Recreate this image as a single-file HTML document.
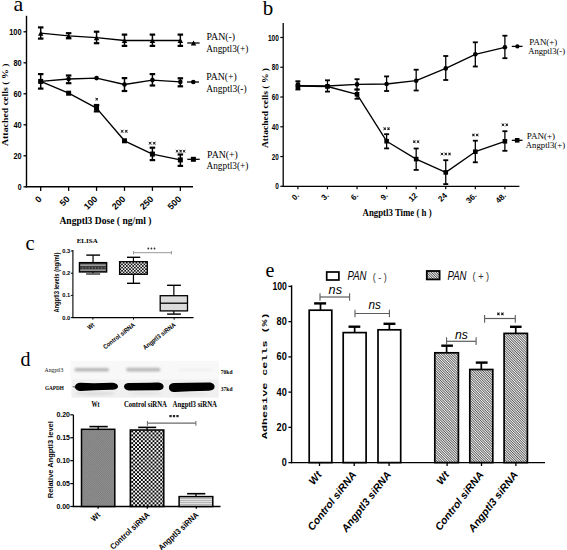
<!DOCTYPE html>
<html><head><meta charset="utf-8"><title>Figure</title>
<style>
html,body{margin:0;padding:0;background:#fff;width:567px;height:550px;overflow:hidden;font-family:"Liberation Sans",sans-serif;}
svg{display:block;position:absolute;left:0;top:0;}
</style></head><body>
<svg width="567" height="550" viewBox="0 0 567 550">

<defs>
<pattern id="pc1" width="3.2" height="3" patternUnits="userSpaceOnUse"><rect width="3.2" height="3" fill="#333"/><rect x="2.2" width="1" height="3" fill="#8a8a8a"/></pattern>
<pattern id="pc2" x="119.6" y="262" width="3.2" height="3.2" patternUnits="userSpaceOnUse"><rect width="3.2" height="3.2" fill="#f4f4f4"/><rect width="1.6" height="1.6" fill="#111"/><rect x="1.6" y="1.6" width="1.6" height="1.6" fill="#111"/></pattern>
<pattern id="pd1" width="2.2" height="2.2" patternUnits="userSpaceOnUse"><rect width="2.2" height="2.2" fill="#969696"/><rect width="1.1" height="1.1" fill="#787878"/><rect x="1.1" y="1.1" width="1.1" height="1.1" fill="#787878"/></pattern>
<pattern id="pd2" x="131.2" y="430.5" width="3.88" height="3.88" patternUnits="userSpaceOnUse"><rect width="3.88" height="3.88" fill="#fafafa"/><rect width="1.94" height="1.94" fill="#080808"/><rect x="1.94" y="1.94" width="1.94" height="1.94" fill="#080808"/></pattern>
<pattern id="pd3" width="4" height="2" patternUnits="userSpaceOnUse"><rect width="4" height="2" fill="#e4e4e4"/><rect width="4" height="0.8" fill="#aaaaaa"/></pattern>
<pattern id="pe" width="1.75" height="1.75" patternUnits="userSpaceOnUse" patternTransform="rotate(-45)"><rect width="1.75" height="1.75" fill="#f6f6f6"/><rect width="0.72" height="1.75" fill="#3a3a3a"/></pattern>
<filter id="blur1" x="-20%" y="-100%" width="140%" height="300%"><feGaussianBlur stdDeviation="0.9"/></filter>
<filter id="blur2" x="-20%" y="-100%" width="140%" height="300%"><feGaussianBlur stdDeviation="0.55"/></filter>
</defs>

<rect width="567" height="550" fill="#fff"/>
<text x="13.50" y="10.80" font-family='"Liberation Serif", serif' font-size="22" font-weight="normal" font-style="normal" text-anchor="start" fill="#000" >a</text>
<line x1="26.50" y1="15.80" x2="26.50" y2="187.40" stroke="#000" stroke-width="1.4"/>
<line x1="25.80" y1="186.80" x2="193.00" y2="186.80" stroke="#000" stroke-width="1.4"/>
<line x1="23.50" y1="186.80" x2="26.50" y2="186.80" stroke="#000" stroke-width="1.3"/>
<text x="21.60" y="190.30" font-family='"Liberation Sans", sans-serif' font-size="9.6" font-weight="bold" font-style="normal" text-anchor="end" fill="#000" textLength="3.8" lengthAdjust="spacingAndGlyphs" >0</text>
<line x1="23.50" y1="155.80" x2="26.50" y2="155.80" stroke="#000" stroke-width="1.3"/>
<text x="21.60" y="159.30" font-family='"Liberation Sans", sans-serif' font-size="9.6" font-weight="bold" font-style="normal" text-anchor="end" fill="#000" textLength="8.2" lengthAdjust="spacingAndGlyphs" >20</text>
<line x1="23.50" y1="124.80" x2="26.50" y2="124.80" stroke="#000" stroke-width="1.3"/>
<text x="21.60" y="128.30" font-family='"Liberation Sans", sans-serif' font-size="9.6" font-weight="bold" font-style="normal" text-anchor="end" fill="#000" textLength="8.2" lengthAdjust="spacingAndGlyphs" >40</text>
<line x1="23.50" y1="93.80" x2="26.50" y2="93.80" stroke="#000" stroke-width="1.3"/>
<text x="21.60" y="97.30" font-family='"Liberation Sans", sans-serif' font-size="9.6" font-weight="bold" font-style="normal" text-anchor="end" fill="#000" textLength="8.2" lengthAdjust="spacingAndGlyphs" >60</text>
<line x1="23.50" y1="62.80" x2="26.50" y2="62.80" stroke="#000" stroke-width="1.3"/>
<text x="21.60" y="66.30" font-family='"Liberation Sans", sans-serif' font-size="9.6" font-weight="bold" font-style="normal" text-anchor="end" fill="#000" textLength="8.2" lengthAdjust="spacingAndGlyphs" >80</text>
<line x1="23.50" y1="31.80" x2="26.50" y2="31.80" stroke="#000" stroke-width="1.3"/>
<text x="21.60" y="35.30" font-family='"Liberation Sans", sans-serif' font-size="9.6" font-weight="bold" font-style="normal" text-anchor="end" fill="#000" textLength="12.4" lengthAdjust="spacingAndGlyphs" >100</text>
<line x1="40.70" y1="186.80" x2="40.70" y2="190.90" stroke="#000" stroke-width="1.3"/>
<text x="42.30" y="199.60" font-family='"Liberation Sans", sans-serif' font-size="9" font-weight="bold" font-style="normal" text-anchor="end" fill="#000" transform="rotate(-45 42.30 199.60)" >0</text>
<line x1="68.63" y1="186.80" x2="68.63" y2="190.90" stroke="#000" stroke-width="1.3"/>
<text x="70.23" y="199.60" font-family='"Liberation Sans", sans-serif' font-size="9" font-weight="bold" font-style="normal" text-anchor="end" fill="#000" transform="rotate(-45 70.23 199.60)" >50</text>
<line x1="96.56" y1="186.80" x2="96.56" y2="190.90" stroke="#000" stroke-width="1.3"/>
<text x="98.16" y="199.60" font-family='"Liberation Sans", sans-serif' font-size="9" font-weight="bold" font-style="normal" text-anchor="end" fill="#000" transform="rotate(-45 98.16 199.60)" >100</text>
<line x1="124.49" y1="186.80" x2="124.49" y2="190.90" stroke="#000" stroke-width="1.3"/>
<text x="126.09" y="199.60" font-family='"Liberation Sans", sans-serif' font-size="9" font-weight="bold" font-style="normal" text-anchor="end" fill="#000" transform="rotate(-45 126.09 199.60)" >200</text>
<line x1="152.42" y1="186.80" x2="152.42" y2="190.90" stroke="#000" stroke-width="1.3"/>
<text x="154.02" y="199.60" font-family='"Liberation Sans", sans-serif' font-size="9" font-weight="bold" font-style="normal" text-anchor="end" fill="#000" transform="rotate(-45 154.02 199.60)" >250</text>
<line x1="180.35" y1="186.80" x2="180.35" y2="190.90" stroke="#000" stroke-width="1.3"/>
<text x="181.95" y="199.60" font-family='"Liberation Sans", sans-serif' font-size="9" font-weight="bold" font-style="normal" text-anchor="end" fill="#000" transform="rotate(-45 181.95 199.60)" >500</text>
<text x="59.40" y="223.50" font-family='"Liberation Serif", serif' font-size="10" font-weight="bold" font-style="normal" text-anchor="start" fill="#000" textLength="92" lengthAdjust="spacingAndGlyphs" >Angptl3 Dose ( ng/ml )</text>
<text x="8.40" y="146.00" font-family='"Liberation Serif", serif' font-size="8.2" font-weight="bold" font-style="normal" text-anchor="start" fill="#000" textLength="82.5" lengthAdjust="spacingAndGlyphs" transform="rotate(-90 8.40 146.00)" >Attached cells ( % )</text>
<polyline points="40.70,33.20 68.63,35.90 96.56,37.70 124.49,40.50 152.42,40.50 180.35,40.50" fill="none" stroke="#000" stroke-width="1.3" stroke-linejoin="round"/>
<line x1="40.70" y1="27.40" x2="40.70" y2="38.60" stroke="#000" stroke-width="1.5"/>
<line x1="37.95" y1="27.40" x2="43.45" y2="27.40" stroke="#000" stroke-width="2.2"/>
<line x1="37.95" y1="38.60" x2="43.45" y2="38.60" stroke="#000" stroke-width="2.2"/>
<polygon points="37.95,35.68 43.45,35.68 40.70,30.73" fill="#000"/>
<line x1="68.63" y1="33.20" x2="68.63" y2="38.30" stroke="#000" stroke-width="1.5"/>
<line x1="65.88" y1="33.20" x2="71.38" y2="33.20" stroke="#000" stroke-width="2.2"/>
<line x1="65.88" y1="38.30" x2="71.38" y2="38.30" stroke="#000" stroke-width="2.2"/>
<polygon points="65.88,38.38 71.38,38.38 68.63,33.42" fill="#000"/>
<line x1="96.56" y1="31.70" x2="96.56" y2="43.20" stroke="#000" stroke-width="1.5"/>
<line x1="93.81" y1="31.70" x2="99.31" y2="31.70" stroke="#000" stroke-width="2.2"/>
<line x1="93.81" y1="43.20" x2="99.31" y2="43.20" stroke="#000" stroke-width="2.2"/>
<polygon points="93.81,40.18 99.31,40.18 96.56,35.23" fill="#000"/>
<line x1="124.49" y1="34.60" x2="124.49" y2="45.90" stroke="#000" stroke-width="1.5"/>
<line x1="121.74" y1="34.60" x2="127.24" y2="34.60" stroke="#000" stroke-width="2.2"/>
<line x1="121.74" y1="45.90" x2="127.24" y2="45.90" stroke="#000" stroke-width="2.2"/>
<polygon points="121.74,42.98 127.24,42.98 124.49,38.02" fill="#000"/>
<line x1="152.42" y1="34.60" x2="152.42" y2="45.90" stroke="#000" stroke-width="1.5"/>
<line x1="149.67" y1="34.60" x2="155.17" y2="34.60" stroke="#000" stroke-width="2.2"/>
<line x1="149.67" y1="45.90" x2="155.17" y2="45.90" stroke="#000" stroke-width="2.2"/>
<polygon points="149.67,42.98 155.17,42.98 152.42,38.02" fill="#000"/>
<line x1="180.35" y1="34.60" x2="180.35" y2="45.90" stroke="#000" stroke-width="1.5"/>
<line x1="177.60" y1="34.60" x2="183.10" y2="34.60" stroke="#000" stroke-width="2.2"/>
<line x1="177.60" y1="45.90" x2="183.10" y2="45.90" stroke="#000" stroke-width="2.2"/>
<polygon points="177.60,42.98 183.10,42.98 180.35,38.02" fill="#000"/>
<polyline points="40.70,81.40 68.63,79.00 96.56,78.10 124.49,84.50 152.42,80.10 180.35,81.90" fill="none" stroke="#000" stroke-width="1.3" stroke-linejoin="round"/>
<line x1="40.70" y1="74.10" x2="40.70" y2="88.60" stroke="#000" stroke-width="1.5"/>
<line x1="37.95" y1="74.10" x2="43.45" y2="74.10" stroke="#000" stroke-width="2.2"/>
<line x1="37.95" y1="88.60" x2="43.45" y2="88.60" stroke="#000" stroke-width="2.2"/>
<circle cx="40.70" cy="81.40" r="2.3" fill="#000"/>
<line x1="68.63" y1="75.50" x2="68.63" y2="83.20" stroke="#000" stroke-width="1.5"/>
<line x1="65.88" y1="75.50" x2="71.38" y2="75.50" stroke="#000" stroke-width="2.2"/>
<line x1="65.88" y1="83.20" x2="71.38" y2="83.20" stroke="#000" stroke-width="2.2"/>
<circle cx="68.63" cy="79.00" r="2.3" fill="#000"/>
<circle cx="96.56" cy="78.10" r="2.3" fill="#000"/>
<line x1="124.49" y1="78.10" x2="124.49" y2="91.00" stroke="#000" stroke-width="1.5"/>
<line x1="121.74" y1="78.10" x2="127.24" y2="78.10" stroke="#000" stroke-width="2.2"/>
<line x1="121.74" y1="91.00" x2="127.24" y2="91.00" stroke="#000" stroke-width="2.2"/>
<circle cx="124.49" cy="84.50" r="2.3" fill="#000"/>
<line x1="152.42" y1="74.10" x2="152.42" y2="85.50" stroke="#000" stroke-width="1.5"/>
<line x1="149.67" y1="74.10" x2="155.17" y2="74.10" stroke="#000" stroke-width="2.2"/>
<line x1="149.67" y1="85.50" x2="155.17" y2="85.50" stroke="#000" stroke-width="2.2"/>
<circle cx="152.42" cy="80.10" r="2.3" fill="#000"/>
<line x1="180.35" y1="78.30" x2="180.35" y2="86.30" stroke="#000" stroke-width="1.5"/>
<line x1="177.60" y1="78.30" x2="183.10" y2="78.30" stroke="#000" stroke-width="2.2"/>
<line x1="177.60" y1="86.30" x2="183.10" y2="86.30" stroke="#000" stroke-width="2.2"/>
<circle cx="180.35" cy="81.90" r="2.3" fill="#000"/>
<polyline points="40.70,81.40 68.63,93.20 96.56,108.10 124.49,140.80 152.42,154.10 180.35,159.90" fill="none" stroke="#000" stroke-width="1.4" stroke-linejoin="round"/>
<rect x="38.20" y="78.90" width="5.00" height="5.00" fill="#000" stroke="none" stroke-width="0" />
<rect x="66.13" y="90.70" width="5.00" height="5.00" fill="#000" stroke="none" stroke-width="0" />
<line x1="96.56" y1="105.00" x2="96.56" y2="111.40" stroke="#000" stroke-width="1.5"/>
<line x1="93.81" y1="105.00" x2="99.31" y2="105.00" stroke="#000" stroke-width="2.2"/>
<line x1="93.81" y1="111.40" x2="99.31" y2="111.40" stroke="#000" stroke-width="2.2"/>
<rect x="94.06" y="105.60" width="5.00" height="5.00" fill="#000" stroke="none" stroke-width="0" />
<rect x="121.99" y="138.30" width="5.00" height="5.00" fill="#000" stroke="none" stroke-width="0" />
<line x1="152.42" y1="147.70" x2="152.42" y2="160.10" stroke="#000" stroke-width="1.5"/>
<line x1="149.67" y1="147.70" x2="155.17" y2="147.70" stroke="#000" stroke-width="2.2"/>
<line x1="149.67" y1="160.10" x2="155.17" y2="160.10" stroke="#000" stroke-width="2.2"/>
<rect x="149.92" y="151.60" width="5.00" height="5.00" fill="#000" stroke="none" stroke-width="0" />
<line x1="180.35" y1="154.50" x2="180.35" y2="165.90" stroke="#000" stroke-width="1.5"/>
<line x1="177.60" y1="154.50" x2="183.10" y2="154.50" stroke="#000" stroke-width="2.2"/>
<line x1="177.60" y1="165.90" x2="183.10" y2="165.90" stroke="#000" stroke-width="2.2"/>
<rect x="177.85" y="157.40" width="5.00" height="5.00" fill="#000" stroke="none" stroke-width="0" />
<rect x="95.79" y="98.39" width="1.82" height="1.61" fill="#333" opacity="0.55"/>
<path d="M95.40,98.05 L98.00,100.35 M98.00,98.05 L95.40,100.35 M96.70,98.05 L96.70,100.35" stroke="#333" stroke-width="1.00" fill="none"/>
<rect x="121.17" y="130.46" width="1.96" height="1.68" fill="#333" opacity="0.55"/>
<path d="M120.75,130.10 L123.55,132.50 M123.55,130.10 L120.75,132.50 M122.15,130.10 L122.15,132.50" stroke="#333" stroke-width="1.00" fill="none"/>
<rect x="125.27" y="130.46" width="1.96" height="1.68" fill="#333" opacity="0.55"/>
<path d="M124.85,130.10 L127.65,132.50 M127.65,130.10 L124.85,132.50 M126.25,130.10 L126.25,132.50" stroke="#333" stroke-width="1.00" fill="none"/>
<rect x="149.17" y="142.36" width="1.96" height="1.68" fill="#333" opacity="0.55"/>
<path d="M148.75,142.00 L151.55,144.40 M151.55,142.00 L148.75,144.40 M150.15,142.00 L150.15,144.40" stroke="#333" stroke-width="1.00" fill="none"/>
<rect x="153.27" y="142.36" width="1.96" height="1.68" fill="#333" opacity="0.55"/>
<path d="M152.85,142.00 L155.65,144.40 M155.65,142.00 L152.85,144.40 M154.25,142.00 L154.25,144.40" stroke="#333" stroke-width="1.00" fill="none"/>
<rect x="176.19" y="150.39" width="1.82" height="1.61" fill="#333" opacity="0.55"/>
<path d="M175.80,150.05 L178.40,152.35 M178.40,150.05 L175.80,152.35 M177.10,150.05 L177.10,152.35" stroke="#333" stroke-width="1.00" fill="none"/>
<rect x="179.69" y="150.39" width="1.82" height="1.61" fill="#333" opacity="0.55"/>
<path d="M179.30,150.05 L181.90,152.35 M181.90,150.05 L179.30,152.35 M180.60,150.05 L180.60,152.35" stroke="#333" stroke-width="1.00" fill="none"/>
<rect x="183.19" y="150.39" width="1.82" height="1.61" fill="#333" opacity="0.55"/>
<path d="M182.80,150.05 L185.40,152.35 M185.40,150.05 L182.80,152.35 M184.10,150.05 L184.10,152.35" stroke="#333" stroke-width="1.00" fill="none"/>
<line x1="187.30" y1="43.00" x2="199.60" y2="43.00" stroke="#000" stroke-width="1.3"/>
<polygon points="190.75,45.48 196.25,45.48 193.50,40.52" fill="#000"/>
<text x="206.50" y="40.00" font-family='"Liberation Serif", serif' font-size="10" font-weight="normal" font-style="normal" text-anchor="start" fill="#000" textLength="28.6" lengthAdjust="spacingAndGlyphs" >PAN(-)</text>
<text x="206.20" y="52.00" font-family='"Liberation Serif", serif' font-size="10" font-weight="normal" font-style="normal" text-anchor="start" fill="#000" textLength="42.2" lengthAdjust="spacingAndGlyphs" >Angptl3(+)</text>
<line x1="187.00" y1="82.00" x2="199.00" y2="82.00" stroke="#000" stroke-width="1.3"/>
<circle cx="193.30" cy="82.00" r="2.3" fill="#000"/>
<text x="206.20" y="80.40" font-family='"Liberation Serif", serif' font-size="10" font-weight="normal" font-style="normal" text-anchor="start" fill="#000" textLength="30.5" lengthAdjust="spacingAndGlyphs" >PAN(+)</text>
<text x="206.20" y="92.30" font-family='"Liberation Serif", serif' font-size="10" font-weight="normal" font-style="normal" text-anchor="start" fill="#000" textLength="40.5" lengthAdjust="spacingAndGlyphs" >Angptl3(-)</text>
<line x1="187.30" y1="159.30" x2="199.70" y2="159.30" stroke="#000" stroke-width="1.3"/>
<rect x="190.90" y="156.80" width="5.00" height="5.00" fill="#000" stroke="none" stroke-width="0" />
<text x="207.10" y="157.60" font-family='"Liberation Serif", serif' font-size="10" font-weight="normal" font-style="normal" text-anchor="start" fill="#000" textLength="30.7" lengthAdjust="spacingAndGlyphs" >PAN(+)</text>
<text x="206.50" y="168.90" font-family='"Liberation Serif", serif' font-size="10" font-weight="normal" font-style="normal" text-anchor="start" fill="#000" textLength="41.9" lengthAdjust="spacingAndGlyphs" >Angptl3(+)</text>
<text x="262.80" y="15.30" font-family='"Liberation Serif", serif' font-size="21" font-weight="normal" font-style="normal" text-anchor="start" fill="#000" >b</text>
<line x1="283.20" y1="22.90" x2="283.20" y2="186.90" stroke="#000" stroke-width="1.3"/>
<line x1="282.60" y1="186.30" x2="519.40" y2="186.30" stroke="#000" stroke-width="1.3"/>
<line x1="280.30" y1="186.30" x2="283.20" y2="186.30" stroke="#000" stroke-width="1.2"/>
<text x="278.80" y="189.40" font-family='"Liberation Sans", sans-serif' font-size="8.6" font-weight="bold" font-style="normal" text-anchor="end" fill="#000" textLength="3.6" lengthAdjust="spacingAndGlyphs" >0</text>
<line x1="280.30" y1="156.54" x2="283.20" y2="156.54" stroke="#000" stroke-width="1.2"/>
<text x="278.80" y="159.64" font-family='"Liberation Sans", sans-serif' font-size="8.6" font-weight="bold" font-style="normal" text-anchor="end" fill="#000" textLength="7.0" lengthAdjust="spacingAndGlyphs" >20</text>
<line x1="280.30" y1="126.78" x2="283.20" y2="126.78" stroke="#000" stroke-width="1.2"/>
<text x="278.80" y="129.88" font-family='"Liberation Sans", sans-serif' font-size="8.6" font-weight="bold" font-style="normal" text-anchor="end" fill="#000" textLength="7.0" lengthAdjust="spacingAndGlyphs" >40</text>
<line x1="280.30" y1="97.02" x2="283.20" y2="97.02" stroke="#000" stroke-width="1.2"/>
<text x="278.80" y="100.12" font-family='"Liberation Sans", sans-serif' font-size="8.6" font-weight="bold" font-style="normal" text-anchor="end" fill="#000" textLength="7.0" lengthAdjust="spacingAndGlyphs" >60</text>
<line x1="280.30" y1="67.26" x2="283.20" y2="67.26" stroke="#000" stroke-width="1.2"/>
<text x="278.80" y="70.36" font-family='"Liberation Sans", sans-serif' font-size="8.6" font-weight="bold" font-style="normal" text-anchor="end" fill="#000" textLength="7.0" lengthAdjust="spacingAndGlyphs" >80</text>
<line x1="280.30" y1="37.50" x2="283.20" y2="37.50" stroke="#000" stroke-width="1.2"/>
<text x="278.80" y="40.60" font-family='"Liberation Sans", sans-serif' font-size="8.6" font-weight="bold" font-style="normal" text-anchor="end" fill="#000" textLength="10.9" lengthAdjust="spacingAndGlyphs" >100</text>
<line x1="297.90" y1="186.30" x2="297.90" y2="189.30" stroke="#000" stroke-width="1.2"/>
<text x="299.70" y="196.00" font-family='"Liberation Sans", sans-serif' font-size="8" font-weight="bold" font-style="normal" text-anchor="end" fill="#000" transform="rotate(-45 299.70 196.00)" >0.</text>
<line x1="327.47" y1="186.30" x2="327.47" y2="189.30" stroke="#000" stroke-width="1.2"/>
<text x="329.27" y="196.00" font-family='"Liberation Sans", sans-serif' font-size="8" font-weight="bold" font-style="normal" text-anchor="end" fill="#000" transform="rotate(-45 329.27 196.00)" >3.</text>
<line x1="357.04" y1="186.30" x2="357.04" y2="189.30" stroke="#000" stroke-width="1.2"/>
<text x="358.84" y="196.00" font-family='"Liberation Sans", sans-serif' font-size="8" font-weight="bold" font-style="normal" text-anchor="end" fill="#000" transform="rotate(-45 358.84 196.00)" >6.</text>
<line x1="386.61" y1="186.30" x2="386.61" y2="189.30" stroke="#000" stroke-width="1.2"/>
<text x="388.41" y="196.00" font-family='"Liberation Sans", sans-serif' font-size="8" font-weight="bold" font-style="normal" text-anchor="end" fill="#000" transform="rotate(-45 388.41 196.00)" >9.</text>
<line x1="416.18" y1="186.30" x2="416.18" y2="189.30" stroke="#000" stroke-width="1.2"/>
<text x="417.98" y="196.00" font-family='"Liberation Sans", sans-serif' font-size="8" font-weight="bold" font-style="normal" text-anchor="end" fill="#000" transform="rotate(-45 417.98 196.00)" >12</text>
<line x1="445.75" y1="186.30" x2="445.75" y2="189.30" stroke="#000" stroke-width="1.2"/>
<text x="447.55" y="196.00" font-family='"Liberation Sans", sans-serif' font-size="8" font-weight="bold" font-style="normal" text-anchor="end" fill="#000" transform="rotate(-45 447.55 196.00)" >24</text>
<line x1="475.32" y1="186.30" x2="475.32" y2="189.30" stroke="#000" stroke-width="1.2"/>
<text x="477.12" y="196.00" font-family='"Liberation Sans", sans-serif' font-size="8" font-weight="bold" font-style="normal" text-anchor="end" fill="#000" transform="rotate(-45 477.12 196.00)" >36.</text>
<line x1="504.89" y1="186.30" x2="504.89" y2="189.30" stroke="#000" stroke-width="1.2"/>
<text x="506.69" y="196.00" font-family='"Liberation Sans", sans-serif' font-size="8" font-weight="bold" font-style="normal" text-anchor="end" fill="#000" transform="rotate(-45 506.69 196.00)" >48.</text>
<text x="362.60" y="215.80" font-family='"Liberation Serif", serif' font-size="9.5" font-weight="bold" font-style="normal" text-anchor="start" fill="#000" textLength="69" lengthAdjust="spacingAndGlyphs" >Angptl3 Time ( h )</text>
<text x="268.20" y="148.00" font-family='"Liberation Serif", serif' font-size="8" font-weight="bold" font-style="normal" text-anchor="start" fill="#000" textLength="80" lengthAdjust="spacingAndGlyphs" transform="rotate(-90 268.20 148.00)" >Attached cells ( % )</text>
<polyline points="297.90,85.70 327.47,86.00 357.04,84.40 386.61,84.00 416.18,80.70 445.75,68.40 475.32,54.30 504.89,47.30" fill="none" stroke="#000" stroke-width="1.3" stroke-linejoin="round"/>
<line x1="297.90" y1="81.20" x2="297.90" y2="89.50" stroke="#000" stroke-width="1.3"/>
<line x1="295.40" y1="81.20" x2="300.40" y2="81.20" stroke="#000" stroke-width="1.8"/>
<line x1="295.40" y1="89.50" x2="300.40" y2="89.50" stroke="#000" stroke-width="1.8"/>
<circle cx="297.90" cy="85.70" r="2.3" fill="#000"/>
<line x1="327.47" y1="80.30" x2="327.47" y2="91.60" stroke="#000" stroke-width="1.3"/>
<line x1="324.97" y1="80.30" x2="329.97" y2="80.30" stroke="#000" stroke-width="1.8"/>
<line x1="324.97" y1="91.60" x2="329.97" y2="91.60" stroke="#000" stroke-width="1.8"/>
<circle cx="327.47" cy="86.00" r="2.3" fill="#000"/>
<line x1="357.04" y1="79.20" x2="357.04" y2="89.50" stroke="#000" stroke-width="1.3"/>
<line x1="354.54" y1="79.20" x2="359.54" y2="79.20" stroke="#000" stroke-width="1.8"/>
<line x1="354.54" y1="89.50" x2="359.54" y2="89.50" stroke="#000" stroke-width="1.8"/>
<circle cx="357.04" cy="84.40" r="2.3" fill="#000"/>
<line x1="386.61" y1="76.40" x2="386.61" y2="91.00" stroke="#000" stroke-width="1.3"/>
<line x1="384.11" y1="76.40" x2="389.11" y2="76.40" stroke="#000" stroke-width="1.8"/>
<line x1="384.11" y1="91.00" x2="389.11" y2="91.00" stroke="#000" stroke-width="1.8"/>
<circle cx="386.61" cy="84.00" r="2.3" fill="#000"/>
<line x1="416.18" y1="69.70" x2="416.18" y2="90.50" stroke="#000" stroke-width="1.3"/>
<line x1="413.68" y1="69.70" x2="418.68" y2="69.70" stroke="#000" stroke-width="1.8"/>
<line x1="413.68" y1="90.50" x2="418.68" y2="90.50" stroke="#000" stroke-width="1.8"/>
<circle cx="416.18" cy="80.70" r="2.3" fill="#000"/>
<line x1="445.75" y1="56.00" x2="445.75" y2="80.00" stroke="#000" stroke-width="1.3"/>
<line x1="443.25" y1="56.00" x2="448.25" y2="56.00" stroke="#000" stroke-width="1.8"/>
<line x1="443.25" y1="80.00" x2="448.25" y2="80.00" stroke="#000" stroke-width="1.8"/>
<circle cx="445.75" cy="68.40" r="2.3" fill="#000"/>
<line x1="475.32" y1="42.30" x2="475.32" y2="66.50" stroke="#000" stroke-width="1.3"/>
<line x1="472.82" y1="42.30" x2="477.82" y2="42.30" stroke="#000" stroke-width="1.8"/>
<line x1="472.82" y1="66.50" x2="477.82" y2="66.50" stroke="#000" stroke-width="1.8"/>
<circle cx="475.32" cy="54.30" r="2.3" fill="#000"/>
<line x1="504.89" y1="35.70" x2="504.89" y2="58.20" stroke="#000" stroke-width="1.3"/>
<line x1="502.39" y1="35.70" x2="507.39" y2="35.70" stroke="#000" stroke-width="1.8"/>
<line x1="502.39" y1="58.20" x2="507.39" y2="58.20" stroke="#000" stroke-width="1.8"/>
<circle cx="504.89" cy="47.30" r="2.3" fill="#000"/>
<polyline points="297.90,86.00 327.47,86.50 357.04,94.30 386.61,141.20 416.18,159.10 445.75,172.40 475.32,151.70 504.89,141.30" fill="none" stroke="#000" stroke-width="1.3" stroke-linejoin="round"/>
<rect x="295.60" y="83.70" width="4.60" height="4.60" fill="#000" stroke="none" stroke-width="0" />
<rect x="325.17" y="84.20" width="4.60" height="4.60" fill="#000" stroke="none" stroke-width="0" />
<line x1="357.04" y1="89.50" x2="357.04" y2="98.80" stroke="#000" stroke-width="1.3"/>
<line x1="354.54" y1="89.50" x2="359.54" y2="89.50" stroke="#000" stroke-width="1.8"/>
<line x1="354.54" y1="98.80" x2="359.54" y2="98.80" stroke="#000" stroke-width="1.8"/>
<rect x="354.74" y="92.00" width="4.60" height="4.60" fill="#000" stroke="none" stroke-width="0" />
<line x1="386.61" y1="134.20" x2="386.61" y2="148.40" stroke="#000" stroke-width="1.3"/>
<line x1="384.11" y1="134.20" x2="389.11" y2="134.20" stroke="#000" stroke-width="1.8"/>
<line x1="384.11" y1="148.40" x2="389.11" y2="148.40" stroke="#000" stroke-width="1.8"/>
<rect x="384.31" y="138.90" width="4.60" height="4.60" fill="#000" stroke="none" stroke-width="0" />
<line x1="416.18" y1="148.50" x2="416.18" y2="169.90" stroke="#000" stroke-width="1.3"/>
<line x1="413.68" y1="148.50" x2="418.68" y2="148.50" stroke="#000" stroke-width="1.8"/>
<line x1="413.68" y1="169.90" x2="418.68" y2="169.90" stroke="#000" stroke-width="1.8"/>
<rect x="413.88" y="156.80" width="4.60" height="4.60" fill="#000" stroke="none" stroke-width="0" />
<line x1="445.75" y1="160.20" x2="445.75" y2="184.10" stroke="#000" stroke-width="1.3"/>
<line x1="443.25" y1="160.20" x2="448.25" y2="160.20" stroke="#000" stroke-width="1.8"/>
<line x1="443.25" y1="184.10" x2="448.25" y2="184.10" stroke="#000" stroke-width="1.8"/>
<rect x="443.45" y="170.10" width="4.60" height="4.60" fill="#000" stroke="none" stroke-width="0" />
<line x1="475.32" y1="140.70" x2="475.32" y2="162.30" stroke="#000" stroke-width="1.3"/>
<line x1="472.82" y1="140.70" x2="477.82" y2="140.70" stroke="#000" stroke-width="1.8"/>
<line x1="472.82" y1="162.30" x2="477.82" y2="162.30" stroke="#000" stroke-width="1.8"/>
<rect x="473.02" y="149.40" width="4.60" height="4.60" fill="#000" stroke="none" stroke-width="0" />
<line x1="504.89" y1="131.20" x2="504.89" y2="150.80" stroke="#000" stroke-width="1.3"/>
<line x1="502.39" y1="131.20" x2="507.39" y2="131.20" stroke="#000" stroke-width="1.8"/>
<line x1="502.39" y1="150.80" x2="507.39" y2="150.80" stroke="#000" stroke-width="1.8"/>
<rect x="502.59" y="139.00" width="4.60" height="4.60" fill="#000" stroke="none" stroke-width="0" />
<rect x="295.90" y="82.40" width="4.20" height="6.80" fill="#000" stroke="none" stroke-width="0" />
<rect x="383.81" y="127.91" width="1.83" height="1.57" fill="#1a1a1a" opacity="0.55"/>
<path d="M383.42,127.57 L386.03,129.82 M386.03,127.57 L383.42,129.82 M384.72,127.57 L384.72,129.82" stroke="#1a1a1a" stroke-width="0.90" fill="none"/>
<rect x="387.59" y="127.91" width="1.83" height="1.57" fill="#1a1a1a" opacity="0.55"/>
<path d="M387.19,127.57 L389.81,129.82 M389.81,127.57 L387.19,129.82 M388.50,127.57 L388.50,129.82" stroke="#1a1a1a" stroke-width="0.90" fill="none"/>
<rect x="413.38" y="140.91" width="1.83" height="1.57" fill="#1a1a1a" opacity="0.55"/>
<path d="M412.98,140.57 L415.59,142.82 M415.59,140.57 L412.98,142.82 M414.29,140.57 L414.29,142.82" stroke="#1a1a1a" stroke-width="0.90" fill="none"/>
<rect x="417.16" y="140.91" width="1.83" height="1.57" fill="#1a1a1a" opacity="0.55"/>
<path d="M416.76,140.57 L419.37,142.82 M419.37,140.57 L416.76,142.82 M418.07,140.57 L418.07,142.82" stroke="#1a1a1a" stroke-width="0.90" fill="none"/>
<rect x="441.06" y="153.21" width="1.83" height="1.57" fill="#1a1a1a" opacity="0.55"/>
<path d="M440.67,152.88 L443.28,155.12 M443.28,152.88 L440.67,155.12 M441.97,152.88 L441.97,155.12" stroke="#1a1a1a" stroke-width="0.90" fill="none"/>
<rect x="444.84" y="153.21" width="1.83" height="1.57" fill="#1a1a1a" opacity="0.55"/>
<path d="M444.44,152.88 L447.06,155.12 M447.06,152.88 L444.44,155.12 M445.75,152.88 L445.75,155.12" stroke="#1a1a1a" stroke-width="0.90" fill="none"/>
<rect x="448.62" y="153.21" width="1.83" height="1.57" fill="#1a1a1a" opacity="0.55"/>
<path d="M448.23,152.88 L450.84,155.12 M450.84,152.88 L448.23,155.12 M449.53,152.88 L449.53,155.12" stroke="#1a1a1a" stroke-width="0.90" fill="none"/>
<rect x="472.52" y="134.21" width="1.83" height="1.57" fill="#1a1a1a" opacity="0.55"/>
<path d="M472.12,133.88 L474.74,136.12 M474.74,133.88 L472.12,136.12 M473.43,133.88 L473.43,136.12" stroke="#1a1a1a" stroke-width="0.90" fill="none"/>
<rect x="476.30" y="134.21" width="1.83" height="1.57" fill="#1a1a1a" opacity="0.55"/>
<path d="M475.90,133.88 L478.51,136.12 M478.51,133.88 L475.90,136.12 M477.21,133.88 L477.21,136.12" stroke="#1a1a1a" stroke-width="0.90" fill="none"/>
<rect x="502.09" y="124.01" width="1.83" height="1.57" fill="#1a1a1a" opacity="0.55"/>
<path d="M501.69,123.67 L504.31,125.92 M504.31,123.67 L501.69,125.92 M503.00,123.67 L503.00,125.92" stroke="#1a1a1a" stroke-width="0.90" fill="none"/>
<rect x="505.87" y="124.01" width="1.83" height="1.57" fill="#1a1a1a" opacity="0.55"/>
<path d="M505.47,123.67 L508.08,125.92 M508.08,123.67 L505.47,125.92 M506.78,123.67 L506.78,125.92" stroke="#1a1a1a" stroke-width="0.90" fill="none"/>
<line x1="511.80" y1="46.40" x2="522.50" y2="46.40" stroke="#000" stroke-width="1.3"/>
<circle cx="517.40" cy="46.40" r="2.1" fill="#000"/>
<text x="529.30" y="44.80" font-family='"Liberation Serif", serif' font-size="9" font-weight="normal" font-style="normal" text-anchor="start" fill="#000" textLength="28" lengthAdjust="spacingAndGlyphs" >PAN(+)</text>
<text x="528.20" y="53.50" font-family='"Liberation Serif", serif' font-size="9" font-weight="normal" font-style="normal" text-anchor="start" fill="#000" textLength="36.9" lengthAdjust="spacingAndGlyphs" >Angptl3(-)</text>
<line x1="511.80" y1="140.30" x2="522.50" y2="140.30" stroke="#000" stroke-width="1.3"/>
<rect x="514.90" y="138.00" width="4.60" height="4.60" fill="#000" stroke="none" stroke-width="0" />
<text x="526.70" y="139.20" font-family='"Liberation Serif", serif' font-size="9" font-weight="normal" font-style="normal" text-anchor="start" fill="#000" textLength="28.4" lengthAdjust="spacingAndGlyphs" >PAN(+)</text>
<text x="525.80" y="148.00" font-family='"Liberation Serif", serif' font-size="9" font-weight="normal" font-style="normal" text-anchor="start" fill="#000" textLength="39.3" lengthAdjust="spacingAndGlyphs" >Angptl3(+)</text>
<text x="25.50" y="250.40" font-family='"Liberation Serif", serif' font-size="20.5" font-weight="normal" font-style="normal" text-anchor="start" fill="#000" >c</text>
<text x="76.70" y="243.20" font-family='"Liberation Serif", serif' font-size="6.4" font-weight="bold" font-style="normal" text-anchor="start" fill="#000" textLength="21" lengthAdjust="spacingAndGlyphs" >ELISA</text>
<line x1="72.90" y1="250.00" x2="72.90" y2="318.00" stroke="#000" stroke-width="1.1"/>
<line x1="72.40" y1="317.60" x2="193.60" y2="317.60" stroke="#000" stroke-width="1.1"/>
<line x1="70.80" y1="317.60" x2="72.90" y2="317.60" stroke="#000" stroke-width="1"/>
<text x="70.30" y="319.60" font-family='"Liberation Sans", sans-serif' font-size="5.6" font-weight="bold" font-style="normal" text-anchor="end" fill="#000" textLength="8" lengthAdjust="spacingAndGlyphs" >0.0</text>
<line x1="70.80" y1="295.40" x2="72.90" y2="295.40" stroke="#000" stroke-width="1"/>
<text x="70.30" y="297.40" font-family='"Liberation Sans", sans-serif' font-size="5.6" font-weight="bold" font-style="normal" text-anchor="end" fill="#000" textLength="8" lengthAdjust="spacingAndGlyphs" >0.1</text>
<line x1="70.80" y1="273.20" x2="72.90" y2="273.20" stroke="#000" stroke-width="1"/>
<text x="70.30" y="275.20" font-family='"Liberation Sans", sans-serif' font-size="5.6" font-weight="bold" font-style="normal" text-anchor="end" fill="#000" textLength="8" lengthAdjust="spacingAndGlyphs" >0.2</text>
<line x1="70.80" y1="251.00" x2="72.90" y2="251.00" stroke="#000" stroke-width="1"/>
<text x="70.30" y="253.00" font-family='"Liberation Sans", sans-serif' font-size="5.6" font-weight="bold" font-style="normal" text-anchor="end" fill="#000" textLength="8" lengthAdjust="spacingAndGlyphs" >0.3</text>
<text x="58.90" y="312.60" font-family='"Liberation Sans", sans-serif' font-size="6.9" font-weight="bold" font-style="normal" text-anchor="start" fill="#000" textLength="60" lengthAdjust="spacingAndGlyphs" transform="rotate(-90 58.90 312.60)" >Angptl3 levels (ng/ml)</text>
<line x1="93.05" y1="255.10" x2="93.05" y2="262.60" stroke="#000" stroke-width="1.2"/>
<line x1="93.05" y1="272.00" x2="93.05" y2="274.00" stroke="#000" stroke-width="1.2"/>
<line x1="86.30" y1="255.10" x2="100.10" y2="255.10" stroke="#000" stroke-width="1.4"/>
<line x1="86.30" y1="274.00" x2="100.10" y2="274.00" stroke="#000" stroke-width="1.4"/>
<rect x="79.40" y="262.60" width="27.30" height="9.40" fill="#3a3a3a" stroke="#000" stroke-width="1.3" />
<rect x="80.30" y="264.40" width="25.50" height="1.50" fill="#a8a8a8" stroke="none" stroke-width="0" />
<rect x="80.30" y="269.40" width="25.50" height="1.50" fill="#a0a0a0" stroke="none" stroke-width="0" />
<rect x="80.3" y="267.2" width="25.5" height="1.2" fill="url(#pc1)"/>
<line x1="86.30" y1="274.00" x2="100.10" y2="274.00" stroke="#808080" stroke-width="1.4"/>
<line x1="133.45" y1="257.30" x2="133.45" y2="261.70" stroke="#000" stroke-width="1.2"/>
<line x1="133.45" y1="274.30" x2="133.45" y2="283.30" stroke="#000" stroke-width="1.2"/>
<line x1="127.00" y1="257.30" x2="140.20" y2="257.30" stroke="#000" stroke-width="1.4"/>
<line x1="127.00" y1="283.30" x2="140.20" y2="283.30" stroke="#000" stroke-width="1.4"/>
<rect x="119.60" y="261.70" width="27.70" height="12.60" fill="url(#pc2)" stroke="#000" stroke-width="1.3" />
<line x1="173.85" y1="285.30" x2="173.85" y2="295.70" stroke="#000" stroke-width="1.2"/>
<line x1="173.85" y1="310.90" x2="173.85" y2="314.10" stroke="#000" stroke-width="1.2"/>
<line x1="167.10" y1="285.30" x2="180.90" y2="285.30" stroke="#000" stroke-width="1.4"/>
<line x1="167.10" y1="314.10" x2="180.90" y2="314.10" stroke="#000" stroke-width="1.4"/>
<rect x="160.20" y="295.70" width="27.30" height="15.20" fill="#dcdcdc" stroke="#000" stroke-width="1.3" />
<line x1="160.20" y1="303.20" x2="187.50" y2="303.20" stroke="#000" stroke-width="1.3"/>
<line x1="133.50" y1="252.70" x2="171.40" y2="252.70" stroke="#999" stroke-width="1"/>
<line x1="133.50" y1="251.00" x2="133.50" y2="254.40" stroke="#999" stroke-width="1"/>
<line x1="171.40" y1="251.00" x2="171.40" y2="254.40" stroke="#999" stroke-width="1"/>
<circle cx="148.28" cy="248.50" r="0.92" fill="#333"/>
<circle cx="151.40" cy="248.50" r="0.92" fill="#333"/>
<circle cx="154.52" cy="248.50" r="0.92" fill="#333"/>
<line x1="92.90" y1="317.60" x2="92.90" y2="319.60" stroke="#000" stroke-width="1"/>
<text x="94.90" y="325.80" font-family='"Liberation Sans", sans-serif' font-size="6.5" font-weight="bold" font-style="normal" text-anchor="end" fill="#000" textLength="7" lengthAdjust="spacingAndGlyphs" transform="rotate(-38 94.90 325.80)" >Wt</text>
<line x1="133.50" y1="317.60" x2="133.50" y2="319.60" stroke="#000" stroke-width="1"/>
<text x="135.50" y="325.80" font-family='"Liberation Sans", sans-serif' font-size="6.5" font-weight="bold" font-style="normal" text-anchor="end" fill="#000" textLength="38.5" lengthAdjust="spacingAndGlyphs" transform="rotate(-38 135.50 325.80)" >Control siRNA</text>
<line x1="174.10" y1="317.60" x2="174.10" y2="319.60" stroke="#000" stroke-width="1"/>
<text x="176.10" y="325.80" font-family='"Liberation Sans", sans-serif' font-size="6.5" font-weight="bold" font-style="normal" text-anchor="end" fill="#000" textLength="39.5" lengthAdjust="spacingAndGlyphs" transform="rotate(-38 176.10 325.80)" >Angptl3 siRNA</text>
<text x="20.50" y="365.80" font-family='"Liberation Serif", serif' font-size="20" font-weight="normal" font-style="normal" text-anchor="start" fill="#000" >d</text>
<text x="44.60" y="371.80" font-family='"Liberation Serif", serif' font-size="6.6" font-weight="normal" font-style="normal" text-anchor="start" fill="#111" textLength="18.7" lengthAdjust="spacingAndGlyphs" >Angptl3</text>
<text x="45.00" y="390.20" font-family='"Liberation Serif", serif' font-size="6.4" font-weight="bold" font-style="normal" text-anchor="start" fill="#000" textLength="18.9" lengthAdjust="spacingAndGlyphs" >GAPDH</text>
<rect x="70.30" y="360.80" width="148.50" height="19.00" fill="#f8f8f8" stroke="none" stroke-width="0" />
<rect x="71.50" y="379.40" width="147.30" height="18.30" fill="#f0f0f0" stroke="none" stroke-width="0" />
<g filter="url(#blur1)">
<rect x="74.5" y="368.1" width="34.5" height="3.5" rx="1.7" fill="#b8b8b8"/>
<rect x="126.2" y="367.8" width="34.2" height="3.6" rx="1.7" fill="#bababa"/>
<rect x="179" y="369" width="33" height="1.8" rx="0.9" fill="#ececec"/>
<ellipse cx="95" cy="393.5" rx="20" ry="2" fill="#dedede"/>
<ellipse cx="145" cy="393.5" rx="17" ry="1.5" fill="#e2e2e2"/>
<ellipse cx="190" cy="394" rx="17" ry="1.3" fill="#e4e4e4"/>
</g>
<g filter="url(#blur2)">
<path d="M71.8,386.8 L76,385.6 L76,388.2 Z" fill="#777"/>
<path d="M75.0,386.9 C75.0,384.3 77,382.8 80.5,382.7 L94,383.3 L111,382.7 C116.3,382.7 118,384.8 118,386.3 C118,388.3 116.3,389.7 111,389.8 L95,390.3 L81,390.9 C77.5,390.9 75.0,389.2 75.0,386.9 Z" fill="#000"/>
<path d="M124.0,386.6 C124.0,384.2 126,383.0 129,382.9 L150,382.8 L157,382.4 C162.3,382.4 163.6,384.8 163.6,386.4 C163.6,388.8 161.8,390.1 157,390.2 L129,390.4 C126,390.4 124.0,388.8 124.0,386.6 Z" fill="#000"/>
<path d="M168.9,387.4 C168.9,384.6 171,383.2 174.5,383.1 L190,382.8 L209,382.5 C213.2,382.5 214.6,385 214.6,386.6 C214.6,389.3 212.7,390.7 209,390.7 L190,391.3 L175,392.1 C171,392.1 168.9,390 168.9,387.4 Z" fill="#000"/>
</g>
<text x="220.80" y="373.80" font-family='"Liberation Serif", serif' font-size="6.8" font-weight="bold" font-style="normal" text-anchor="start" fill="#000" textLength="11.7" lengthAdjust="spacingAndGlyphs" >70kd</text>
<text x="220.80" y="391.30" font-family='"Liberation Serif", serif' font-size="6.8" font-weight="bold" font-style="normal" text-anchor="start" fill="#000" textLength="11.7" lengthAdjust="spacingAndGlyphs" >37kd</text>
<text x="91.50" y="407.30" font-family='"Liberation Serif", serif' font-size="7.6" font-weight="bold" font-style="normal" text-anchor="start" fill="#000" textLength="8.1" lengthAdjust="spacingAndGlyphs" >Wt</text>
<text x="123.90" y="407.30" font-family='"Liberation Serif", serif' font-size="7.6" font-weight="bold" font-style="normal" text-anchor="start" fill="#000" textLength="43" lengthAdjust="spacingAndGlyphs" >Control  siRNA</text>
<text x="172.60" y="407.30" font-family='"Liberation Serif", serif' font-size="7.6" font-weight="bold" font-style="normal" text-anchor="start" fill="#000" textLength="44.4" lengthAdjust="spacingAndGlyphs" >Angptl3  siRNA</text>
<line x1="73.40" y1="414.90" x2="73.40" y2="507.10" stroke="#000" stroke-width="1.3"/>
<line x1="72.80" y1="506.50" x2="220.50" y2="506.50" stroke="#000" stroke-width="1.3"/>
<line x1="70.30" y1="506.50" x2="73.40" y2="506.50" stroke="#000" stroke-width="1.2"/>
<text x="70.00" y="509.00" font-family='"Liberation Sans", sans-serif' font-size="7" font-weight="bold" font-style="normal" text-anchor="end" fill="#000" textLength="13.6" lengthAdjust="spacingAndGlyphs" >0.00</text>
<line x1="70.30" y1="483.57" x2="73.40" y2="483.57" stroke="#000" stroke-width="1.2"/>
<text x="70.00" y="486.07" font-family='"Liberation Sans", sans-serif' font-size="7" font-weight="bold" font-style="normal" text-anchor="end" fill="#000" textLength="13.6" lengthAdjust="spacingAndGlyphs" >0.05</text>
<line x1="70.30" y1="460.65" x2="73.40" y2="460.65" stroke="#000" stroke-width="1.2"/>
<text x="70.00" y="463.15" font-family='"Liberation Sans", sans-serif' font-size="7" font-weight="bold" font-style="normal" text-anchor="end" fill="#000" textLength="13.6" lengthAdjust="spacingAndGlyphs" >0.10</text>
<line x1="70.30" y1="437.73" x2="73.40" y2="437.73" stroke="#000" stroke-width="1.2"/>
<text x="70.00" y="440.23" font-family='"Liberation Sans", sans-serif' font-size="7" font-weight="bold" font-style="normal" text-anchor="end" fill="#000" textLength="13.6" lengthAdjust="spacingAndGlyphs" >0.15</text>
<line x1="70.30" y1="414.80" x2="73.40" y2="414.80" stroke="#000" stroke-width="1.2"/>
<text x="70.00" y="417.30" font-family='"Liberation Sans", sans-serif' font-size="7" font-weight="bold" font-style="normal" text-anchor="end" fill="#000" textLength="13.6" lengthAdjust="spacingAndGlyphs" >0.20</text>
<text x="53.20" y="498.20" font-family='"Liberation Sans", sans-serif' font-size="7.6" font-weight="bold" font-style="normal" text-anchor="start" fill="#000" textLength="77" lengthAdjust="spacingAndGlyphs" transform="rotate(-90 53.20 498.20)" >Relative Angptl3 level</text>
<rect x="81.50" y="429.30" width="33.30" height="77.20" fill="url(#pd1)" stroke="#000" stroke-width="1.5" />
<line x1="98.15" y1="426.60" x2="98.15" y2="429.30" stroke="#000" stroke-width="1.3"/>
<line x1="89.40" y1="426.60" x2="107.70" y2="426.60" stroke="#000" stroke-width="1.6"/>
<rect x="130.30" y="430.00" width="33.50" height="76.50" fill="url(#pd2)" stroke="#000" stroke-width="1.5" />
<line x1="147.05" y1="427.40" x2="147.05" y2="430.00" stroke="#000" stroke-width="1.3"/>
<line x1="138.20" y1="427.40" x2="156.20" y2="427.40" stroke="#000" stroke-width="1.6"/>
<rect x="179.10" y="496.60" width="33.70" height="9.90" fill="url(#pd3)" stroke="#000" stroke-width="1.5" />
<line x1="195.95" y1="493.70" x2="195.95" y2="496.60" stroke="#000" stroke-width="1.3"/>
<line x1="187.10" y1="493.70" x2="205.30" y2="493.70" stroke="#000" stroke-width="1.6"/>
<line x1="147.40" y1="423.20" x2="195.90" y2="423.20" stroke="#6a6a6a" stroke-width="1.2"/>
<line x1="147.40" y1="421.00" x2="147.40" y2="425.80" stroke="#6a6a6a" stroke-width="1"/>
<line x1="195.90" y1="421.00" x2="195.90" y2="425.80" stroke="#6a6a6a" stroke-width="1"/>
<rect x="169.35" y="415.00" width="2.30" height="2.20" fill="#222"/>
<rect x="172.85" y="415.00" width="2.30" height="2.20" fill="#222"/>
<rect x="176.35" y="415.00" width="2.30" height="2.20" fill="#222"/>
<line x1="98.10" y1="506.50" x2="98.10" y2="508.80" stroke="#000" stroke-width="1.2"/>
<text x="100.90" y="515.60" font-family='"Liberation Sans", sans-serif' font-size="8.2" font-weight="bold" font-style="normal" text-anchor="end" fill="#000" textLength="9.3" lengthAdjust="spacingAndGlyphs" transform="rotate(-43 100.90 515.60)" >Wt</text>
<line x1="147.30" y1="506.50" x2="147.30" y2="508.80" stroke="#000" stroke-width="1.2"/>
<text x="150.10" y="515.60" font-family='"Liberation Sans", sans-serif' font-size="8.2" font-weight="bold" font-style="normal" text-anchor="end" fill="#000" textLength="50.5" lengthAdjust="spacingAndGlyphs" transform="rotate(-43 150.10 515.60)" >Control siRNA</text>
<line x1="196.30" y1="506.50" x2="196.30" y2="508.80" stroke="#000" stroke-width="1.2"/>
<text x="199.10" y="515.60" font-family='"Liberation Sans", sans-serif' font-size="8.2" font-weight="bold" font-style="normal" text-anchor="end" fill="#000" textLength="51.5" lengthAdjust="spacingAndGlyphs" transform="rotate(-43 199.10 515.60)" >Angptl3 siRNA</text>
<text x="265.40" y="277.00" font-family='"Liberation Serif", serif' font-size="20" font-weight="normal" font-style="normal" text-anchor="start" fill="#000" >e</text>
<rect x="326.70" y="272.00" width="12.20" height="8.00" fill="#fff" stroke="#000" stroke-width="1.7" />
<text x="347.50" y="280.00" font-family='"Liberation Sans", sans-serif' font-size="12" font-weight="normal" font-style="italic" text-anchor="start" fill="#000" textLength="19" lengthAdjust="spacingAndGlyphs" >PAN</text>
<text x="372.80" y="280.60" font-family='"Liberation Sans", sans-serif' font-size="11" font-weight="normal" font-style="normal" text-anchor="start" fill="#333" textLength="13.8" lengthAdjust="spacingAndGlyphs" >( - )</text>
<rect x="426.80" y="271.00" width="12.80" height="8.40" fill="url(#pe)" stroke="#000" stroke-width="1.8" />
<text x="447.50" y="279.50" font-family='"Liberation Sans", sans-serif' font-size="12" font-weight="normal" font-style="italic" text-anchor="start" fill="#000" textLength="19" lengthAdjust="spacingAndGlyphs" >PAN</text>
<text x="472.60" y="280.00" font-family='"Liberation Sans", sans-serif' font-size="11" font-weight="normal" font-style="normal" text-anchor="start" fill="#333" textLength="16.6" lengthAdjust="spacingAndGlyphs" >( + )</text>
<line x1="291.60" y1="285.30" x2="291.60" y2="463.20" stroke="#000" stroke-width="1.4"/>
<line x1="290.90" y1="462.60" x2="545.00" y2="462.60" stroke="#000" stroke-width="1.4"/>
<line x1="288.40" y1="462.60" x2="291.60" y2="462.60" stroke="#000" stroke-width="1.3"/>
<text x="286.80" y="466.20" font-family='"Liberation Sans", sans-serif' font-size="10" font-weight="bold" font-style="normal" text-anchor="end" fill="#000" textLength="5" lengthAdjust="spacingAndGlyphs" >0</text>
<line x1="288.40" y1="427.36" x2="291.60" y2="427.36" stroke="#000" stroke-width="1.3"/>
<text x="286.80" y="430.96" font-family='"Liberation Sans", sans-serif' font-size="10" font-weight="bold" font-style="normal" text-anchor="end" fill="#000" textLength="10.2" lengthAdjust="spacingAndGlyphs" >20</text>
<line x1="288.40" y1="392.12" x2="291.60" y2="392.12" stroke="#000" stroke-width="1.3"/>
<text x="286.80" y="395.72" font-family='"Liberation Sans", sans-serif' font-size="10" font-weight="bold" font-style="normal" text-anchor="end" fill="#000" textLength="10.2" lengthAdjust="spacingAndGlyphs" >40</text>
<line x1="288.40" y1="356.88" x2="291.60" y2="356.88" stroke="#000" stroke-width="1.3"/>
<text x="286.80" y="360.48" font-family='"Liberation Sans", sans-serif' font-size="10" font-weight="bold" font-style="normal" text-anchor="end" fill="#000" textLength="10.2" lengthAdjust="spacingAndGlyphs" >60</text>
<line x1="288.40" y1="321.64" x2="291.60" y2="321.64" stroke="#000" stroke-width="1.3"/>
<text x="286.80" y="325.24" font-family='"Liberation Sans", sans-serif' font-size="10" font-weight="bold" font-style="normal" text-anchor="end" fill="#000" textLength="10.2" lengthAdjust="spacingAndGlyphs" >80</text>
<line x1="288.40" y1="286.40" x2="291.60" y2="286.40" stroke="#000" stroke-width="1.3"/>
<text x="286.80" y="290.00" font-family='"Liberation Sans", sans-serif' font-size="10" font-weight="bold" font-style="normal" text-anchor="end" fill="#000" textLength="14.4" lengthAdjust="spacingAndGlyphs" >100</text>
<text x="266.80" y="439.10" font-family='"Liberation Mono", monospace' font-size="7.5" font-weight="bold" font-style="normal" text-anchor="start" fill="#000" textLength="126.7" lengthAdjust="spacingAndGlyphs" transform="rotate(-90 266.80 439.10)" >Adhesive cells (%)</text>
<rect x="309.20" y="310.20" width="22.60" height="152.40" fill="#fff" stroke="#000" stroke-width="1.7" />
<line x1="320.50" y1="303.40" x2="320.50" y2="310.20" stroke="#000" stroke-width="1.7"/>
<line x1="314.10" y1="303.40" x2="326.10" y2="303.40" stroke="#000" stroke-width="2.4"/>
<rect x="343.20" y="332.60" width="22.90" height="130.00" fill="#fff" stroke="#000" stroke-width="1.7" />
<line x1="354.65" y1="326.70" x2="354.65" y2="332.60" stroke="#000" stroke-width="1.7"/>
<line x1="348.50" y1="326.70" x2="360.30" y2="326.70" stroke="#000" stroke-width="2.4"/>
<rect x="378.00" y="329.80" width="22.70" height="132.80" fill="#fff" stroke="#000" stroke-width="1.7" />
<line x1="389.35" y1="323.80" x2="389.35" y2="329.80" stroke="#000" stroke-width="1.7"/>
<line x1="383.50" y1="323.80" x2="395.40" y2="323.80" stroke="#000" stroke-width="2.4"/>
<rect x="434.80" y="352.80" width="23.60" height="109.80" fill="url(#pe)" stroke="#000" stroke-width="1.7" />
<line x1="446.60" y1="345.70" x2="446.60" y2="352.80" stroke="#000" stroke-width="1.7"/>
<line x1="441.30" y1="345.70" x2="452.90" y2="345.70" stroke="#000" stroke-width="2.4"/>
<rect x="469.80" y="369.50" width="23.00" height="93.10" fill="url(#pe)" stroke="#000" stroke-width="1.7" />
<line x1="481.30" y1="362.60" x2="481.30" y2="369.50" stroke="#000" stroke-width="1.7"/>
<line x1="475.80" y1="362.60" x2="487.60" y2="362.60" stroke="#000" stroke-width="2.4"/>
<rect x="504.10" y="333.40" width="23.30" height="129.20" fill="url(#pe)" stroke="#000" stroke-width="1.7" />
<line x1="515.75" y1="326.80" x2="515.75" y2="333.40" stroke="#000" stroke-width="1.7"/>
<line x1="510.00" y1="326.80" x2="521.60" y2="326.80" stroke="#000" stroke-width="2.4"/>
<line x1="320.00" y1="297.00" x2="349.60" y2="297.00" stroke="#5c5c5c" stroke-width="1.2"/>
<line x1="320.00" y1="293.30" x2="320.00" y2="300.80" stroke="#5c5c5c" stroke-width="1.1"/>
<line x1="349.60" y1="293.30" x2="349.60" y2="300.80" stroke="#5c5c5c" stroke-width="1.1"/>
<text x="328.60" y="294.00" font-family='"Liberation Sans", sans-serif' font-size="12" font-weight="normal" font-style="italic" text-anchor="start" fill="#000" textLength="13.4" lengthAdjust="spacingAndGlyphs" >ns</text>
<line x1="355.00" y1="313.50" x2="389.40" y2="313.50" stroke="#5c5c5c" stroke-width="1.2"/>
<line x1="355.00" y1="309.80" x2="355.00" y2="317.30" stroke="#5c5c5c" stroke-width="1.1"/>
<line x1="389.40" y1="309.80" x2="389.40" y2="317.30" stroke="#5c5c5c" stroke-width="1.1"/>
<text x="368.40" y="309.00" font-family='"Liberation Sans", sans-serif' font-size="12" font-weight="normal" font-style="italic" text-anchor="start" fill="#000" textLength="12.4" lengthAdjust="spacingAndGlyphs" >ns</text>
<line x1="446.60" y1="341.30" x2="476.10" y2="341.30" stroke="#5c5c5c" stroke-width="1.2"/>
<line x1="446.60" y1="337.30" x2="446.60" y2="344.90" stroke="#5c5c5c" stroke-width="1.1"/>
<line x1="476.10" y1="337.30" x2="476.10" y2="344.90" stroke="#5c5c5c" stroke-width="1.1"/>
<text x="455.00" y="339.00" font-family='"Liberation Sans", sans-serif' font-size="12" font-weight="normal" font-style="italic" text-anchor="start" fill="#000" textLength="12.9" lengthAdjust="spacingAndGlyphs" >ns</text>
<line x1="484.60" y1="318.50" x2="515.30" y2="318.50" stroke="#5c5c5c" stroke-width="1.2"/>
<line x1="484.60" y1="314.90" x2="484.60" y2="322.70" stroke="#5c5c5c" stroke-width="1.1"/>
<line x1="515.30" y1="314.90" x2="515.30" y2="322.70" stroke="#5c5c5c" stroke-width="1.1"/>
<rect x="497.46" y="313.07" width="1.91" height="1.65" fill="#1a1a1a" opacity="0.55"/>
<path d="M497.05,312.72 L499.79,315.08 M499.79,312.72 L497.05,315.08 M498.42,312.72 L498.42,315.08" stroke="#1a1a1a" stroke-width="0.94" fill="none"/>
<rect x="501.42" y="313.07" width="1.91" height="1.65" fill="#1a1a1a" opacity="0.55"/>
<path d="M501.01,312.72 L503.75,315.08 M503.75,312.72 L501.01,315.08 M502.38,312.72 L502.38,315.08" stroke="#1a1a1a" stroke-width="0.94" fill="none"/>
<line x1="319.50" y1="462.60" x2="319.50" y2="466.00" stroke="#000" stroke-width="1.3"/>
<text x="322.10" y="474.80" font-family='"Liberation Sans", sans-serif' font-size="10.5" font-weight="bold" font-style="italic" text-anchor="end" fill="#000" transform="rotate(-52 322.10 474.80)" >Wt</text>
<line x1="354.20" y1="462.60" x2="354.20" y2="466.00" stroke="#000" stroke-width="1.3"/>
<text x="356.80" y="474.80" font-family='"Liberation Sans", sans-serif' font-size="10.5" font-weight="bold" font-style="italic" text-anchor="end" fill="#000" transform="rotate(-52 356.80 474.80)" >Control siRNA</text>
<line x1="389.10" y1="462.60" x2="389.10" y2="466.00" stroke="#000" stroke-width="1.3"/>
<text x="391.70" y="474.80" font-family='"Liberation Sans", sans-serif' font-size="10.5" font-weight="bold" font-style="italic" text-anchor="end" fill="#000" transform="rotate(-52 391.70 474.80)" >Angptl3 siRNA</text>
<line x1="447.10" y1="462.60" x2="447.10" y2="466.00" stroke="#000" stroke-width="1.3"/>
<text x="449.70" y="474.80" font-family='"Liberation Sans", sans-serif' font-size="10.5" font-weight="bold" font-style="italic" text-anchor="end" fill="#000" transform="rotate(-52 449.70 474.80)" >Wt</text>
<line x1="481.50" y1="462.60" x2="481.50" y2="466.00" stroke="#000" stroke-width="1.3"/>
<text x="484.10" y="474.80" font-family='"Liberation Sans", sans-serif' font-size="10.5" font-weight="bold" font-style="italic" text-anchor="end" fill="#000" transform="rotate(-52 484.10 474.80)" >Control siRNA</text>
<line x1="515.90" y1="462.60" x2="515.90" y2="466.00" stroke="#000" stroke-width="1.3"/>
<text x="518.50" y="474.80" font-family='"Liberation Sans", sans-serif' font-size="10.5" font-weight="bold" font-style="italic" text-anchor="end" fill="#000" transform="rotate(-52 518.50 474.80)" >Angptl3 siRNA</text>
</svg>
</body></html>
